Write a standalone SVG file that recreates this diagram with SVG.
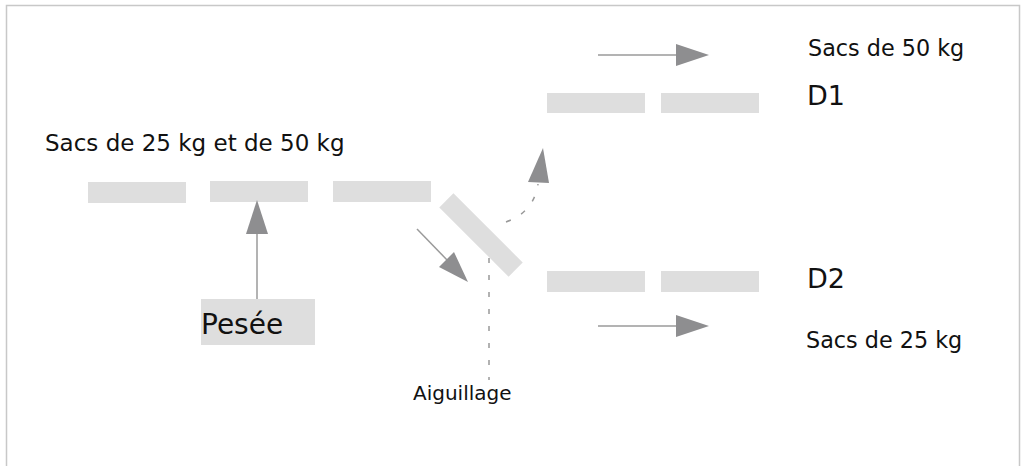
<svg xmlns="http://www.w3.org/2000/svg" width="1023" height="466" viewBox="0 0 1023 466">
<style>
.belt{fill:#dedede;}
.t{font-family:"DejaVu Sans","Liberation Sans",sans-serif;fill:#111;}
.ln{stroke:#9a9a9a;stroke-width:1.5;fill:none;}
.dash{stroke:#999;stroke-width:1.5;fill:none;stroke-dasharray:5 12;}
.head{fill:#8e8e90;}
</style>
<rect width="1023" height="466" fill="#fff"/>
<path d="M6.5,466 V5.5 H1019.5 V466" fill="none" stroke="#c8c8c8" stroke-width="1.5"/>
<g id="label-in"><text class="t" x="45" y="151" font-size="23">Sacs de 25 kg et de 50 kg</text></g>
<g id="belt-in">
<rect class="belt" x="88" y="182" width="98" height="21"/>
<rect class="belt" x="210" y="181" width="98" height="21"/>
<rect class="belt" x="333" y="181" width="98" height="21"/>
</g>
<g id="aiguillage-switch"><rect class="belt" x="432" y="225" width="98" height="20" transform="rotate(45 481 235)"/></g>
<g id="belt-d1">
<rect class="belt" x="547" y="93" width="98" height="20"/>
<rect class="belt" x="661" y="93" width="98" height="20"/>
</g>
<g id="belt-d2">
<rect class="belt" x="547" y="271" width="98" height="21"/>
<rect class="belt" x="661" y="271" width="98" height="21"/>
</g>
<g id="pesee">
<rect class="belt" x="201" y="299" width="114" height="46"/>
<text class="t" x="201" y="334" font-size="28">Pesée</text>
</g>
<g id="d1-labels">
<text class="t" x="808" y="56" font-size="22.3">Sacs de 50 kg</text>
<text class="t" x="807" y="105" font-size="27">D1</text>
</g>
<g id="d2-labels">
<text class="t" x="807" y="288" font-size="27">D2</text>
<text class="t" x="806" y="348" font-size="22.3">Sacs de 25 kg</text>
</g>
<g id="aiguillage-label"><text class="t" x="413" y="400" font-size="20">Aiguillage</text></g>
<g id="connectors">
<line class="ln" x1="257" y1="299" x2="257" y2="230"/>
<polygon class="head" points="257,200 268,234 246,234"/>
<line class="ln" x1="598" y1="55" x2="680" y2="55"/>
<polygon class="head" points="709,55 676,44 676,66"/>
<line class="ln" x1="598" y1="326" x2="680" y2="326"/>
<polygon class="head" points="709,326 676,315 676,337"/>
<line class="ln" x1="417" y1="229" x2="449" y2="262"/>
<polygon class="head" points="468,282 439,267 454,252"/>
<path class="dash" d="M506,222 Q534,212 538,184"/>
<polygon class="head" points="543,148 549,183 528,182"/>
<line class="dash" x1="489" y1="258" x2="489" y2="380"/>
</g>
</svg>
